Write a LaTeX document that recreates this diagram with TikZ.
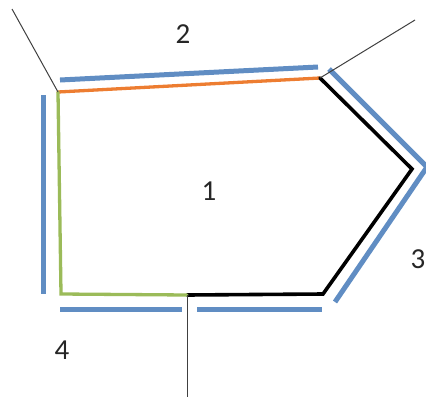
\documentclass[tikz,border=0pt]{standalone}
\usepackage{fontspec}
\setmainfont{Carlito}
\definecolor{obl}{HTML}{4F81BD}
\definecolor{oor}{HTML}{ED7D31}
\definecolor{ogr}{HTML}{9BBB59}
\begin{document}
\begin{tikzpicture}[x=1pt,y=-1pt,
  blueside/.style={draw=obl,line width=5pt,opacity=0.9},
  thinline/.style={draw=black!75,line width=1pt},
  edgeline/.style={line width=3.3pt,line cap=round,line join=miter},
  lbl/.style={font=\fontsize{29}{32}\selectfont,text=black!85,inner sep=0pt}]
\useasboundingbox (0,0) rectangle (426,400);
% vertices
\coordinate (A) at (58,92);
\coordinate (B) at (320,78);
\coordinate (C) at (412,169);
\coordinate (D) at (323,294);
\coordinate (E) at (187,295);
\coordinate (F) at (61,294);
% outer ends of thin lines
\coordinate (TA) at (12,9);
\coordinate (TB) at (415,20);
\coordinate (TE) at (187,397);
% blue sides
\coordinate (b1s) at (60,80);
\coordinate (b1e) at (318,67);
\coordinate (b2s) at (43,95);
\coordinate (b2e) at (43,294);
\coordinate (b3s) at (60,309);
\coordinate (b3e) at (182,309);
\coordinate (b4s) at (197,309);
\coordinate (b4e) at (322,309);
\coordinate (b5s) at (329,69);
\coordinate (b5m) at (427,167);
\coordinate (b5e) at (335,302);
\path[blueside] (b1s) -- (b1e);
\path[blueside] (b2s) -- (b2e);
\path[blueside] (b3s) -- (b3e);
\path[blueside] (b4s) -- (b4e);
\path[blueside,line join=miter] (b5s) -- (b5m) -- (b5e);
% polygon edges
\draw[edgeline,draw=oor] (A) -- (B);
\draw[edgeline,draw=black,line width=3.6pt] (B) -- (C) -- (D) -- (E);
\draw[edgeline,draw=ogr] (E) -- (F) -- (A);
% thin lines
\draw[thinline] (TA) -- (A);
\draw[thinline] (TB) -- (B);
\draw[thinline] (E) -- (TE);
% labels
\node[lbl] (l2) at (183,34) {2};
\node[lbl] (l1) at (209,191) {1};
\node[lbl] (l3) at (418,259) {3};
\node[lbl] (l4) at (62,350) {4};
\end{tikzpicture}
\end{document}
